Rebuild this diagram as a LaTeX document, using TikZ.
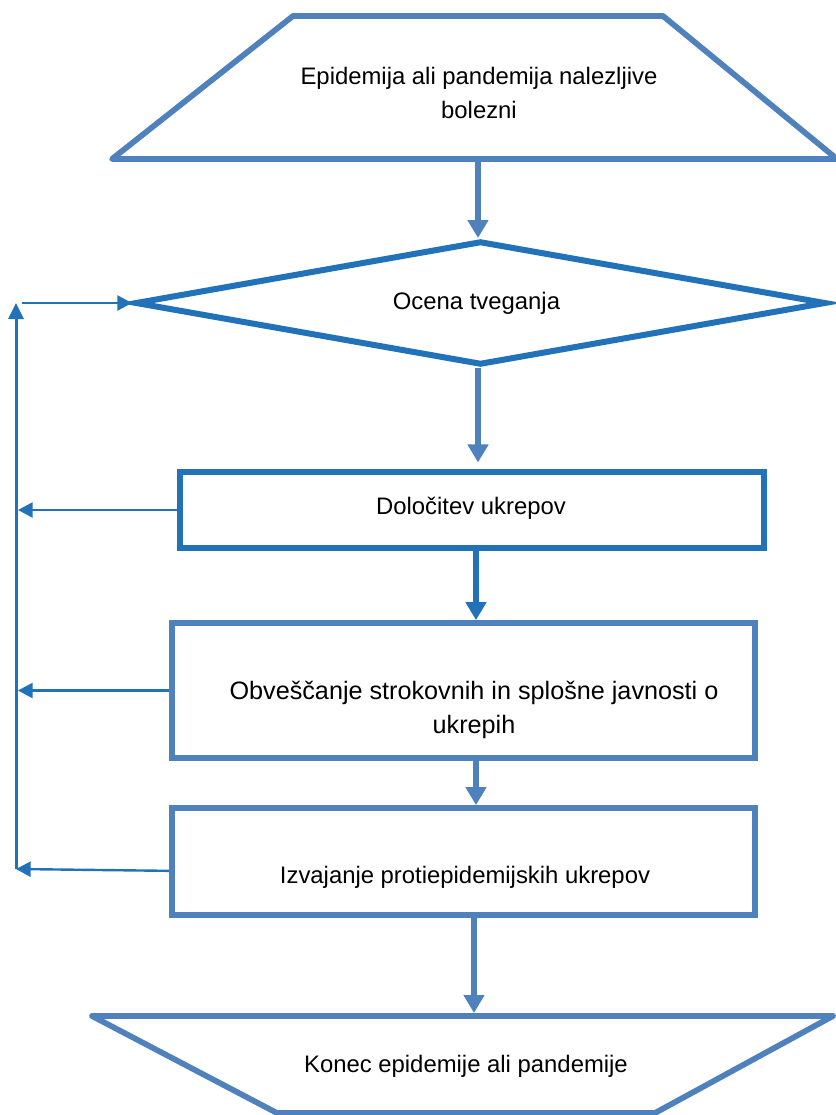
\documentclass[tikz,border=0pt]{standalone}
\usepackage{fontspec}
\setmainfont{Liberation Sans}
\usetikzlibrary{shapes.geometric,arrows.meta}
\definecolor{lightblue}{HTML}{4F81BD}
\definecolor{darkblue}{HTML}{2272B9}
\tikzset{
  flowline/.style={lightblue, line width=4.3pt, line join=round},
  flowbox/.style={draw=lightblue, line width=4.3pt, inner sep=0pt, minimum width=437.25pt},
  risknode/.style={diamond, draw=darkblue, line width=4.5pt, inner sep=0pt, shape aspect=5.6,
    minimum width=518.25pt, minimum height=93pt, font=\fontsize{17.9}{24}\selectfont},
  txt/.style={align=center, font=\fontsize{17.9}{25}\selectfont},
  flowarrow/.style={line width=4.8pt, -{Triangle[width=15pt,length=13.5pt]}},
  loopline/.style={darkblue, line width=2.25pt, -{Triangle[width=11.25pt,length=12pt]}},
  fbarrow/.style={darkblue, line width=1.8pt, -{Triangle[width=11.25pt,length=11pt]}}
}
\begin{document}
\begin{tikzpicture}[x=0.75pt,y=-0.75pt]
\useasboundingbox (0,0) rectangle (836,1115);
% start
\draw[flowline] (293,16) -- (663,16) -- (837,159) -- (112,159) -- cycle;
\node[txt] (start) at (479,93) {Epidemija ali pandemija nalezljive\\bolezni};
\coordinate (startbot) at (478,159);
% risk
\node[risknode] (risk) at (480.5,303) {\hspace*{-6pt}Ocena tveganja};
% steps
\node[flowbox, draw=darkblue, minimum width=438pt, minimum height=57pt] (box1) at (472,510) {};
\node[txt] (box1text) at (471,508) {Določitev ukrepov};
\node[flowbox, minimum height=101.25pt] (box2) at (463.5,690.5) {};
\node[txt, font=\fontsize{18.9}{26}\selectfont] (box2text) at (474,710) {Obveščanje strokovnih in splošne javnosti o\\ukrepih};
\node[flowbox, minimum height=80.25pt] (box3) at (463.5,861.5) {};
\node[txt] (box3text) at (465,877) {Izvajanje protiepidemijskih ukrepov};
% end
\draw[flowline] (92,1016) -- (833,1016) -- (655,1113) -- (277,1113) -- cycle;
\node[txt] (end) at (466,1066) {Konec epidemije ali pandemije};
\coordinate (endtop) at (474,1013);
\coordinate (mid) at (476,0);
% flow
\draw[flowarrow, lightblue] (startbot) -- (startbot |- risk.north);
\draw[flowarrow, lightblue, shorten >=5pt] (risk.south -| startbot) -- (box1.north -| startbot);
\draw[flowarrow, darkblue] (box1.south -| mid) -- (box2.north -| mid);
\draw[flowarrow, lightblue] (box2.south -| mid) -- (box3.north -| mid);
\draw[flowarrow, lightblue] (box3.south -| endtop) -- (endtop);
% feedback
\coordinate (loopbot) at (16,869);
\coordinate (looptop) at (16,303);
\coordinate (loopstart) at (22,303);
\coordinate (loopedge) at (18,0);
\draw[loopline] (loopbot) -- (looptop);
\draw[fbarrow] (loopstart) -- (risk.west);
\draw[fbarrow] (box1.west) -- (box1.west -| loopedge);
\draw[fbarrow] (box2.west) -- (box2.west -| loopedge);
\draw[fbarrow] ([yshift=-7pt]box3.west) -- (loopbot);
\end{tikzpicture}
\end{document}
